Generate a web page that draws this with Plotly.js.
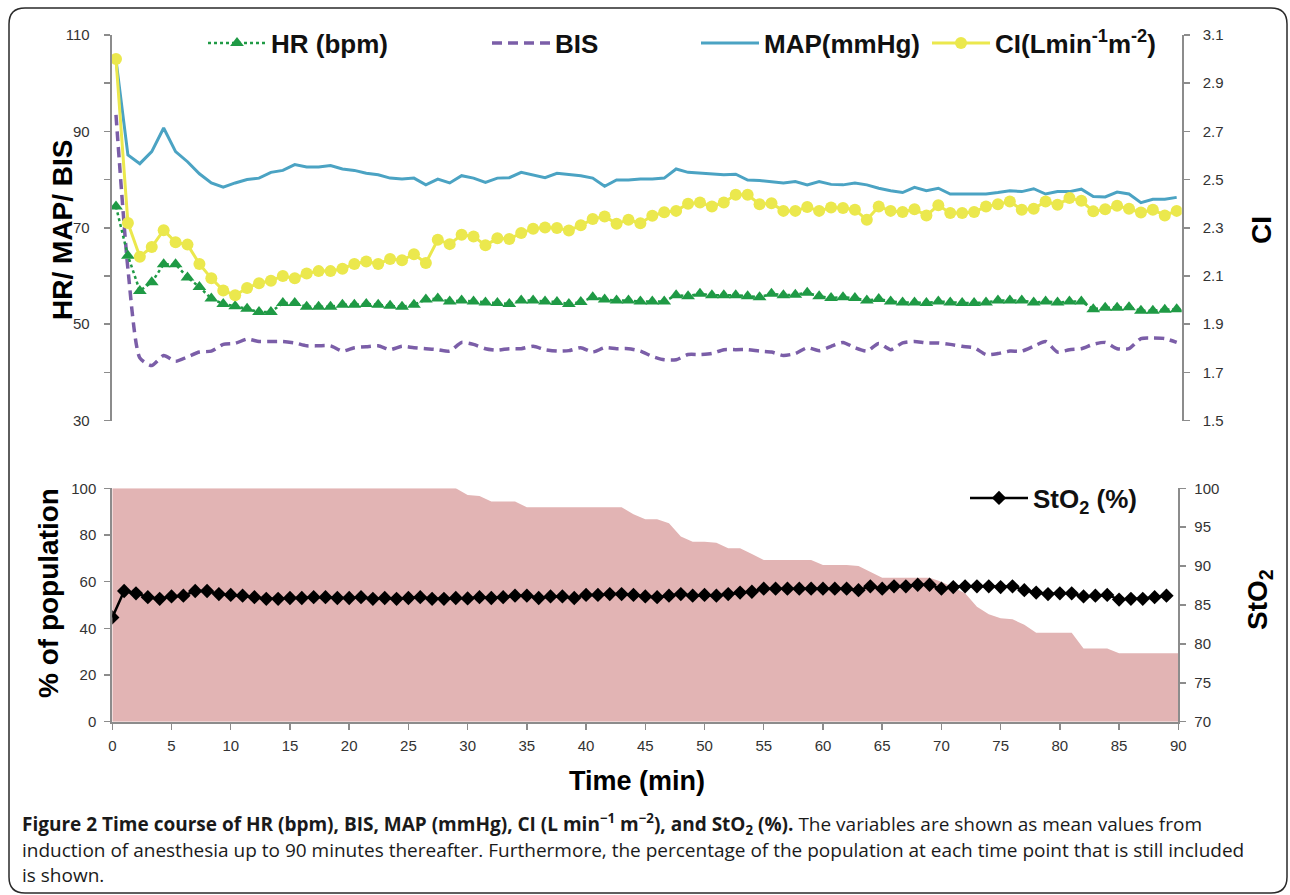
<!DOCTYPE html>
<html>
<head>
<meta charset="utf-8">
<script src="https://cdn.plot.ly/plotly-3.0.1.min.js"></script>
<style>html,body{margin:0;padding:0;background:#fff;}#chart{width:1290px;height:895px;}</style>
</head>
<body>
<div id="chart"></div>
<script>
// ---- data ----
const minutes = [0,1,2,3,4,5,6,7,8,9,10,11,12,13,14,15,16,17,18,19,20,21,22,23,24,25,26,27,28,29,30,31,32,33,34,35,36,37,38,39,40,41,42,43,44,45,46,47,48,49,50,51,52,53,54,55,56,57,58,59,60,61,62,63,64,65,66,67,68,69,70,71,72,73,74,75,76,77,78,79,80,81,82,83,84,85,86,87,88,89];
const popMinutes = [0,1,2,3,4,5,6,7,8,9,10,11,12,13,14,15,16,17,18,19,20,21,22,23,24,25,26,27,28,29,30,31,32,33,34,35,36,37,38,39,40,41,42,43,44,45,46,47,48,49,50,51,52,53,54,55,56,57,58,59,60,61,62,63,64,65,66,67,68,69,70,71,72,73,74,75,76,77,78,79,80,81,82,83,84,85,86,87,88,89,90];

const hr = [74.4,64.2,56.9,58.7,62.4,62.4,59.7,57.7,55.3,54.2,53.7,53.2,52.5,52.5,54.4,54.4,53.6,53.6,53.6,54.0,54.0,54.2,54.0,53.8,
  53.6,54.0,55.1,55.3,54.7,54.9,54.7,54.5,54.4,54.2,54.9,54.9,54.7,54.6,54.2,54.6,55.6,55.1,54.9,54.9,54.7,54.7,54.7,56.0,55.8,56.3,
  56.0,56.0,56.0,55.8,55.6,56.3,56.0,56.1,56.5,55.8,55.4,55.6,55.4,54.9,55.2,54.7,54.5,54.5,54.4,54.7,54.5,54.4,54.4,54.5,54.9,54.9,
  54.9,54.5,54.7,54.5,54.7,54.7,53.1,53.4,53.4,53.5,52.8,52.8,53.0,53.1];

const bis = [93.4,61.5,43.0,41.4,43.5,42.3,43.2,44.2,44.4,45.8,46.0,46.9,46.4,46.4,46.4,46.1,45.5,45.5,45.5,44.4,45.1,45.3,45.5,44.7,
  45.4,45.1,44.9,44.7,44.4,46.2,45.8,44.9,44.6,44.9,44.9,45.4,44.7,44.4,44.5,45.1,44.2,45.1,44.9,44.9,44.4,43.3,42.6,42.6,43.7,43.7,
  43.9,44.7,44.7,44.7,44.4,44.2,43.5,43.9,45.1,44.5,45.4,46.2,45.1,44.4,46.0,44.7,46.1,46.4,46.1,46.1,45.8,45.4,45.1,43.7,43.9,44.4,
  44.4,45.4,46.4,44.2,44.7,44.9,45.8,46.2,44.9,44.9,47.0,47.1,47.0,46.2];

const map = [104.8,85.1,83.3,85.8,90.7,85.8,83.7,81.2,79.3,78.4,79.3,80.0,80.3,81.5,81.9,83.1,82.6,82.6,82.9,82.2,81.9,81.3,81.0,80.3,
  80.1,80.3,78.9,80.1,79.3,80.8,80.3,79.4,80.3,80.4,81.5,81.0,80.4,81.3,81.0,80.8,80.3,78.6,79.9,79.9,80.1,80.1,80.3,82.2,81.5,81.3,
  81.2,81.0,81.1,79.9,79.8,79.6,79.3,79.6,78.9,79.6,79.0,78.9,79.3,78.9,78.2,77.7,77.3,78.4,77.7,78.2,77.0,77.0,77.0,77.0,77.3,77.7,
  77.5,78.1,77.0,77.5,77.5,78.0,76.5,76.4,77.4,77.0,75.2,75.9,75.9,76.3];

const ci = [3.00,2.32,2.18,2.22,2.29,2.24,2.23,2.15,2.09,2.04,2.02,2.05,2.07,2.08,2.10,2.09,2.11,2.12,2.12,2.13,2.15,2.16,2.15,2.17,
  2.165,2.19,2.154,2.25,2.232,2.271,2.264,2.227,2.256,2.253,2.278,2.296,2.301,2.299,2.289,2.31,2.336,2.347,2.317,2.333,2.319,2.35,
  2.364,2.37,2.40,2.405,2.388,2.405,2.437,2.437,2.398,2.402,2.37,2.37,2.386,2.37,2.384,2.382,2.375,2.333,2.388,2.37,2.365,2.377,
  2.351,2.393,2.361,2.361,2.365,2.388,2.398,2.409,2.375,2.379,2.409,2.395,2.423,2.412,2.368,2.377,2.391,2.379,2.363,2.375,2.351,2.37];

const sto2 = [83.4,86.8,86.5,86.0,85.8,86.1,86.2,86.8,86.8,86.4,86.3,86.2,86.0,85.8,85.8,85.9,85.9,86.0,86.0,85.9,85.9,86.0,85.8,85.9,
  85.8,85.9,86.0,85.8,85.8,85.9,85.85,86.0,85.9,86.0,86.2,86.2,85.9,86.1,86.1,85.9,86.3,86.3,86.4,86.4,86.3,86.1,86.0,86.2,86.4,86.2,
  86.3,86.2,86.4,86.6,86.7,87.1,87.1,87.1,87.1,87.1,87.1,87.1,87.1,86.9,87.4,87.1,87.4,87.4,87.6,87.6,87.1,87.3,87.4,87.4,87.4,87.3,
  87.4,86.9,86.6,86.4,86.5,86.5,86.1,86.2,86.3,85.7,85.8,85.8,86.0,86.2];

const population = [100,100,100,100,100,100,100,100,100,100,100,100,100,100,100,100,100,100,100,100,100,100,100,100,100,100,100,100,100,100,
  97.1,96.7,94.3,94.3,94.3,91.9,91.9,91.9,91.9,91.9,91.9,91.9,91.9,91.9,88.9,86.7,86.7,85.0,79.3,77.1,77.1,76.7,74.3,74.3,71.8,
  69.3,69.3,69.3,69.3,69.3,67.1,67.1,67.1,66.7,64.2,61.7,61.7,61.7,61.7,61.7,60.0,57.5,55.0,49.3,46.0,44.3,43.9,41.5,38.1,38.1,
  38.1,38.1,31.4,31.4,31.4,29.3,29.3,29.3,29.3,29.3,29.3];

// ---- layout helpers (pixel -> paper) ----
const W = 1290, H = 895;
const px = v => v / W;
const py = v => 1 - v / H;

const FONT = 'Liberation Sans, Arial, sans-serif';
const CAP = 'Open Sans, sans-serif';
const AX = '#8c8c8c';
const tickFont = {family: FONT, size: 15, color: '#333'};
const axisCommon = {ticks: 'outside', ticklen: 6, tickwidth: 1.5, tickcolor: AX, showline: true, linecolor: AX, linewidth: 2,
  showgrid: false, zeroline: false, tickfont: tickFont};

const traces = [
  {x: popMinutes, y: population, xaxis: 'x', yaxis: 'y3', type: 'scatter', mode: 'lines',
   fill: 'tozeroy', fillcolor: '#e2b4b4', line: {width: 0, color: '#e2b4b4'}, showlegend: false, hoverinfo: 'skip'},
  {x: minutes, y: sto2, xaxis: 'x', yaxis: 'y4', type: 'scatter', mode: 'lines+markers', name: 'StO<sub>2</sub> (%)',
   line: {color: '#000', width: 2.5}, marker: {symbol: 'diamond', size: 11, color: '#000'}, legend: 'legend5'},
  {x: minutes, y: map, xaxis: 'x2', yaxis: 'y', type: 'scatter', mode: 'lines', name: 'MAP(mmHg)',
   line: {color: '#4ba3c3', width: 3}, legend: 'legend3'},
  {x: minutes, y: bis, xaxis: 'x2', yaxis: 'y', type: 'scatter', mode: 'lines', name: 'BIS',
   line: {color: '#7b5ea8', width: 3.5, dash: '10px,6px', shape: 'spline', smoothing: 0.6}, legend: 'legend2'},
  {x: minutes, y: hr, xaxis: 'x2', yaxis: 'y', type: 'scatter', mode: 'lines+markers', name: 'HR (bpm)',
   line: {color: '#1f9a45', width: 2.5, dash: 'dot'}, marker: {symbol: 'triangle-up', size: 12, color: '#1f9a45'}, legend: 'legend'},
  {x: minutes, y: ci, xaxis: 'x2', yaxis: 'y2', type: 'scatter', mode: 'lines+markers', name: 'CI(Lmin<sup>-1</sup>m<sup>-2</sup>)',
   line: {color: '#ebe84d', width: 3}, marker: {symbol: 'circle', size: 12, color: '#ebe84d'}, legend: 'legend4'}
];

const legendBase = (x, y) => ({x: x, y: y, xanchor: 'left', yanchor: 'middle', orientation: 'h', itemwidth: 58,
  bgcolor: 'rgba(0,0,0,0)', font: {family: FONT, size: 26, weight: 'bold', color: '#111'}});

function roundedRect(x0, y0, x1, y1, r) {
  const a = px(x0), b = px(x1), t = py(y0), bt = py(y1), rx = r / W, ry = r / H;
  return `M${a+rx},${t} L${b-rx},${t} Q${b},${t} ${b},${t-ry} L${b},${bt+ry} Q${b},${bt} ${b-rx},${bt} ` +
         `L${a+rx},${bt} Q${a},${bt} ${a},${bt+ry} L${a},${t-ry} Q${a},${t} ${a+rx},${t} Z`;
}

const ann = (text, x, y, size, extra) => Object.assign({text: text, x: px(x), y: py(y), xref: 'paper', yref: 'paper',
  xanchor: 'center', yanchor: 'middle', showarrow: false, font: {family: FONT, size: size, color: '#000'}}, extra || {});
const capLine = (text, y) => ({text: text, x: px(20), y: py(y), xref: 'paper', yref: 'paper', xanchor: 'left', yanchor: 'middle',
  align: 'left', showarrow: false, font: {family: CAP, size: 19, color: '#1a1a1a'}});

const layout = {
  width: W, height: H,
  margin: {l: 0, r: 0, t: 0, b: 0},
  paper_bgcolor: '#fff', plot_bgcolor: 'rgba(0,0,0,0)',
  font: {family: FONT, color: '#222'},
  hovermode: false,
  xaxis: Object.assign({domain: [px(112.3), px(1178.3)], range: [0, 90], anchor: 'y3', tick0: 0, dtick: 5,
    ticklabelstandoff: 3}, axisCommon),
  xaxis2: {domain: [px(111.7), px(1181.7)], range: [-0.36, 89.42], anchor: 'y', visible: false},
  yaxis: Object.assign({domain: [py(420.5), py(35)], range: [30, 110], anchor: 'x2', tick0: 30, dtick: 20,
    minor: {dtick: 10, ticks: 'outside', ticklen: 6, tickwidth: 1.5, tickcolor: AX, showgrid: false},
    ticklabelstandoff: 11}, axisCommon),
  yaxis2: Object.assign({overlaying: 'y', side: 'right', anchor: 'x2', range: [1.5, 3.1], tick0: 1.5, dtick: 0.2,
    tickformat: '.1f', ticklabelstandoff: 10}, axisCommon),
  yaxis3: Object.assign({domain: [py(721.7), py(488.3)], range: [0, 100], anchor: 'x', tick0: 0, dtick: 20,
    ticklabelstandoff: 5}, axisCommon),
  yaxis4: Object.assign({overlaying: 'y3', side: 'right', anchor: 'x', range: [70, 100], tick0: 70, dtick: 5,
    ticklabelstandoff: 5}, axisCommon),
  legend: legendBase(px(203), py(43)),
  legend2: legendBase(px(487), py(43)),
  legend3: legendBase(px(696), py(43)),
  legend4: legendBase(px(927), py(43)),
  legend5: legendBase(px(965), py(498)),
  shapes: [
    {type: 'path', xref: 'paper', yref: 'paper', path: roundedRect(9, 8, 1287, 893, 16),
     line: {color: '#2a2a2a', width: 1.5}, fillcolor: 'rgba(0,0,0,0)', layer: 'below'}
  ],
  annotations: [
    ann('<b>HR/ MAP/ BIS</b>', 62, 230, 28, {textangle: -90}),
    ann('<b>CI</b>', 1261, 230, 28, {textangle: -90}),
    ann('<b>% of population</b>', 48, 593, 28, {textangle: -90}),
    ann('<b>StO<sub>2</sub></b>', 1259, 600, 28, {textangle: -90}),
    ann('<b>Time (min)</b>', 637, 781, 27),
    capLine('<b>Figure 2 Time course of HR (bpm), BIS, MAP (mmHg), CI (L min<sup>−1</sup> m<sup>−2</sup>), and StO<sub>2</sub> (%).</b> The variables are shown as mean values from', 824),
    capLine('induction of anesthesia up to 90 minutes thereafter. Furthermore, the percentage of the population at each time point that is still included', 850),
    capLine('is shown.', 875)
  ]
};

Plotly.newPlot('chart', traces, layout, {displayModeBar: false, staticPlot: true});
</script>
</body>
</html>
